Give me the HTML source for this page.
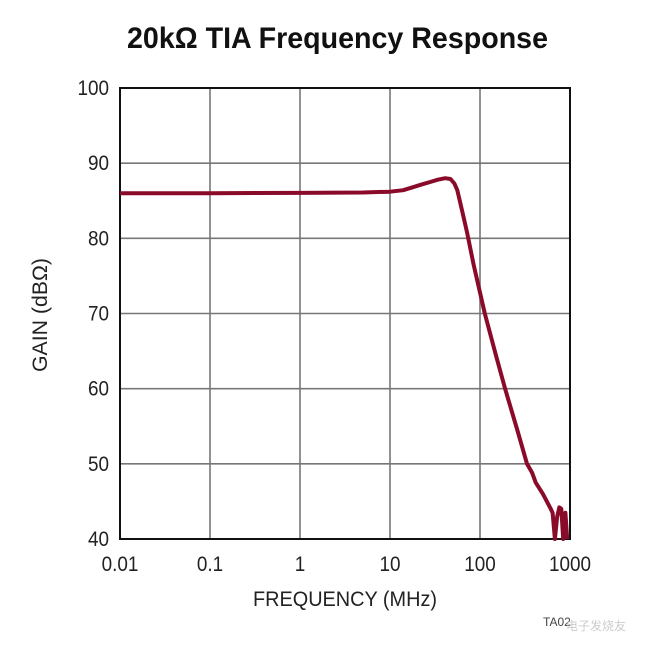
<!DOCTYPE html>
<html><head><meta charset="utf-8"><style>
html,body{margin:0;padding:0;background:#fff;}
svg{display:block;font-family:"Liberation Sans",sans-serif;}
</style></head><body>
<svg id="chart" width="650" height="646">
<text x="127" y="48" font-size="30" font-weight="bold" fill="#111" textLength="421" lengthAdjust="spacingAndGlyphs">20kΩ TIA Frequency Response</text>
<g id="grid"></g>
<g id="ticks"></g>
<text x="0" y="0" transform="translate(47,372) rotate(-90)" font-size="21" fill="#222" textLength="114" lengthAdjust="spacingAndGlyphs">GAIN (dBΩ)</text>
<text x="253" y="606" font-size="21" fill="#222" textLength="184" lengthAdjust="spacingAndGlyphs">FREQUENCY (MHz)</text>
<text x="543" y="626" font-size="12" fill="#444">TA02</text>
<text x="566" y="630" font-size="12" fill="#ccc">电子发烧友</text>
<rect x="120" y="88" width="450" height="451" fill="none" stroke="#111" stroke-width="2"/>
<path id="curve" fill="none" stroke="#8a0a2a" stroke-width="4" stroke-linejoin="round"/>
</svg>
<script>
const xTicks = [0.01, 0.1, 1, 10, 100, 1000];
const xTickLabels = ["0.01", "0.1", "1", "10", "100", "1000"];
const yTicks = [40, 50, 60, 70, 80, 90, 100];
const yTickLabels = ["40", "50", "60", "70", "80", "90", "100"];
const freqs = [0.01, 0.1, 1, 5, 10, 14, 18, 23, 28, 34, 41, 47, 52, 56, 63, 72, 85, 113, 150, 190, 260, 333, 380, 416, 500, 600, 640, 680, 720, 760, 800, 840, 890, 930];
const gains = [86, 86, 86.05, 86.1, 86.2, 86.4, 86.8, 87.2, 87.5, 87.8, 88.0, 87.9, 87.3, 86.4, 83.8, 80.7, 76.5, 70, 64.5, 60, 54.5, 50, 48.8, 47.5, 46.0, 44.2, 43.5, 40.0, 43.0, 44.2, 44.0, 40.0, 43.5, 40.0];
const X0=120, X1=570, Y0=88, Y1=539;
function xs(f){return X0+(X1-X0)*(Math.log10(f)-Math.log10(0.01))/5;}
function ys(g){return Y1-(Y1-Y0)*(g-40)/60;}
const NS="http://www.w3.org/2000/svg";
const grid=document.getElementById('grid'), ticks=document.getElementById('ticks');
xTicks.forEach((f,i)=>{
  const l=document.createElementNS(NS,'line');
  l.setAttribute('x1',xs(f));l.setAttribute('x2',xs(f));l.setAttribute('y1',Y0);l.setAttribute('y2',Y1);
  l.setAttribute('stroke','#777');l.setAttribute('stroke-width','1.6');
  
  
  grid.appendChild(l);
  const t=document.createElementNS(NS,'text');
  t.setAttribute('x',xs(f));t.setAttribute('y',571);t.setAttribute('text-anchor','middle');
  t.setAttribute('font-size','21');t.setAttribute('fill','#222');t.textContent=xTickLabels[i];
  t.setAttribute('transform','translate('+xs(f)+',0) scale(0.9,1) translate('+(-xs(f))+',0)');
  
  
  ticks.appendChild(t);
});
yTicks.forEach((g,i)=>{
  const l=document.createElementNS(NS,'line');
  l.setAttribute('x1',X0);l.setAttribute('x2',X1);l.setAttribute('y1',ys(g));l.setAttribute('y2',ys(g));
  l.setAttribute('stroke','#777');l.setAttribute('stroke-width','1.6');
  
  
  grid.appendChild(l);
  const t=document.createElementNS(NS,'text');
  t.setAttribute('x',109);t.setAttribute('y',ys(g)+7);t.setAttribute('text-anchor','end');
  t.setAttribute('font-size','21');t.setAttribute('fill','#222');t.textContent=yTickLabels[i];
  t.setAttribute('transform','translate(109,0) scale(0.9,1) translate(-109,0)');
  
  
  ticks.appendChild(t);
});
document.getElementById('curve').setAttribute('d',freqs.map((f,i)=>(i?'L':'M')+xs(f).toFixed(1)+','+ys(gains[i]).toFixed(1)).join(' '));
</script>
</body></html>
